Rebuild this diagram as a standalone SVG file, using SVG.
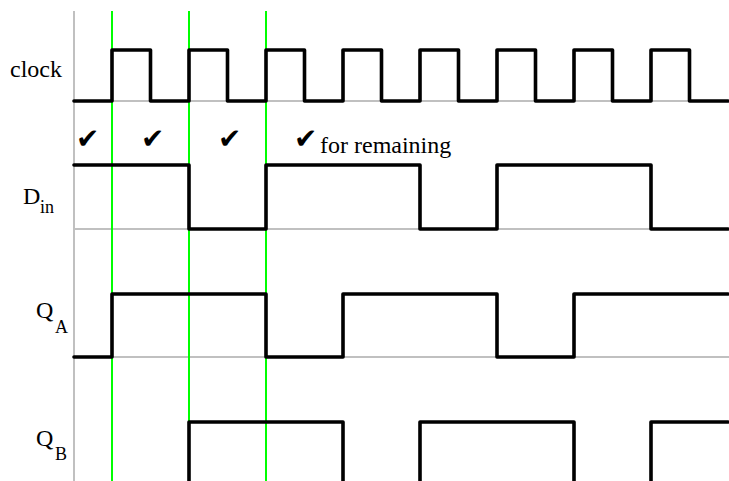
<svg xmlns="http://www.w3.org/2000/svg" width="729" height="481" viewBox="0 0 729 481">
<style>
.grid{stroke:#c0c0c0;stroke-width:2;fill:none}
.clk{stroke:#00ff00;stroke-width:2;fill:none}
.sig{stroke:#000;stroke-width:3.6;fill:none;stroke-linejoin:round;stroke-linecap:round}
.lbl{font-family:'Liberation Serif','Times New Roman','DejaVu Serif',serif;font-size:24px;fill:#000}
.sub{font-size:18px}
.chk{font-family:'DejaVu Sans',sans-serif;font-size:28px;fill:#000}
</style>
<rect width="729" height="481" fill="#fff"/>
<g id="connectors">
<g id="grid">
<line class="grid" x1="74" y1="11" x2="74" y2="481"/>
<line class="grid" x1="74" y1="101" x2="729" y2="101"/>
<line class="grid" x1="74" y1="229" x2="729" y2="229"/>
<line class="grid" x1="74" y1="357" x2="729" y2="357"/>
</g>
<g id="clock-edges">
<line class="clk" x1="112" y1="11" x2="112" y2="481"/>
<line class="clk" x1="189" y1="11" x2="189" y2="481"/>
<line class="clk" x1="266" y1="11" x2="266" y2="481"/>
</g>
</g>
<g id="clock">
<text class="lbl" x="10" y="77">clock</text>
<path class="sig" d="M74 101H112V50H150.5V101H189V50H227.5V101H266V50H304.5V101H343V50H381.5V101H420V50H458.5V101H497V50H535.5V101H574V50H612.5V101H651V50H689.5V101H728"/>
</g>
<g id="checks">
<text class="chk" x="76" y="148">✔</text>
<text class="chk" x="141" y="148">✔</text>
<text class="chk" x="218" y="148">✔</text>
<text class="chk" x="294" y="148">✔</text>
<text class="lbl" x="320" y="153">for remaining</text>
</g>
<g id="din">
<text class="lbl" x="23" y="204">D<tspan class="sub" x="40" y="213">in</tspan></text>
<path class="sig" d="M74 165H189V229H266V165H420V229H497V165H651V229H728"/>
</g>
<g id="qa">
<text class="lbl" x="36" y="318">Q<tspan class="sub" x="55" y="333">A</tspan></text>
<path class="sig" d="M74 357H112V294H266V357H343V294H497V357H574V294H728"/>
</g>
<g id="qb">
<text class="lbl" x="36" y="446">Q<tspan class="sub" x="55" y="460">B</tspan></text>
<path class="sig" d="M189 490V422H343V490M420 490V422H574V490M651 490V422H728"/>
</g>
</svg>
